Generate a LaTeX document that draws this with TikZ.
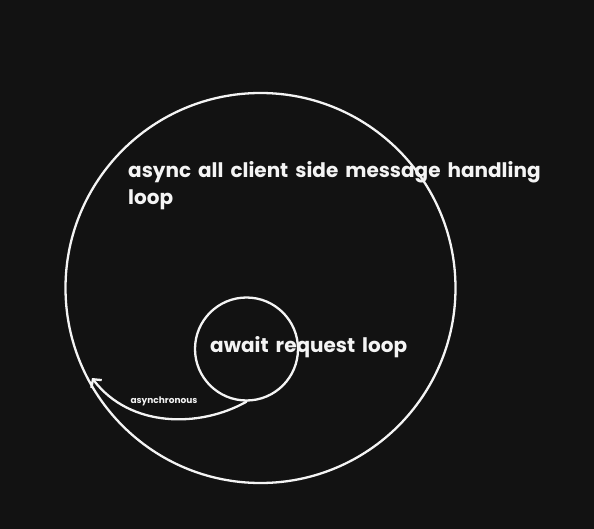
\documentclass[tikz,border=0pt]{standalone}
\usepackage{fontspec}
\setmainfont{Poppins}
\usetikzlibrary{arrows.meta}
\definecolor{bg}{HTML}{121212}
\definecolor{ink}{HTML}{F4F4F4}
\newcommand{\widespaces}{\spaceskip=7pt\relax}
\tikzset{
  ring/.style={draw=ink, line width=2.3pt, circle, inner sep=0pt},
  bigtext/.style={text=ink, font=\fontsize{20}{27}\selectfont\bfseries\widespaces, inner sep=0pt},
  smalltext/.style={text=ink, font=\fontsize{9}{11}\selectfont\bfseries, inner sep=0pt},
  flow/.style={draw=ink, line width=2.3pt, line cap=round, -{Straight Barb[length=6pt,width=13pt,line width=2.3pt]}}
}
\begin{document}
\begin{tikzpicture}[x=1pt,y=-1pt]
  \fill[bg] (0,0) rectangle (594,529);
  \useasboundingbox (0,0) rectangle (594,529);
  \node[ring, minimum size=390pt] (outer) at (260.5,288) {};
  \node[ring, minimum size=103pt] (inner) at (246.5,349) {};
  \node[bigtext, anchor=west, align=left] (outerlabel) at (128,186) {async all client side message handling\\loop};
  \node[bigtext, anchor=west] (innerlabel) at (210,347) {await request loop};
  \node[smalltext] (asynclabel) at (164,401) {asynchronous};
  \coordinate (tip) at (92,378);
  \draw[flow] (inner.south) .. controls (200,428) and (130,428) .. (tip);
\end{tikzpicture}
\end{document}
